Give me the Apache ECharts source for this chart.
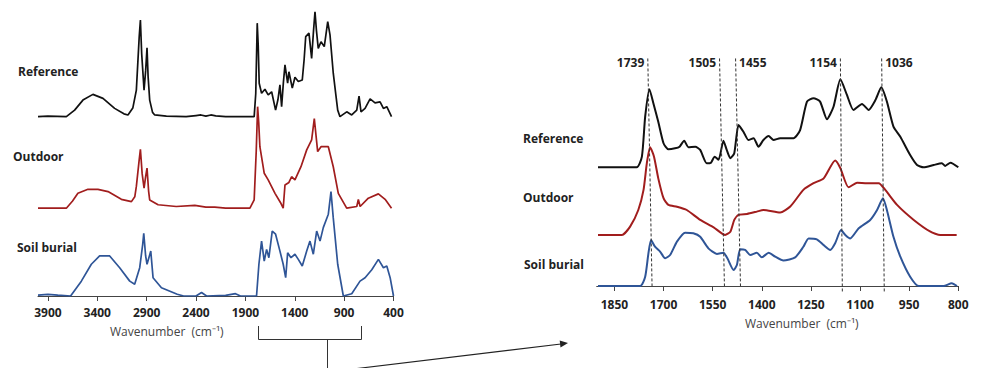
<!DOCTYPE html>
<html>
<head>
<meta charset="utf-8">
<script src="https://cdn.jsdelivr.net/npm/echarts@6/dist/echarts.min.js"></script>
<style>
  html, body { margin: 0; padding: 0; background: #fff; }
  #chart { width: 981px; height: 368px; }
</style>
</head>
<body>
<div id="chart"></div>
<script>
// full spectra (left panel), [wavenumber, absorbance above own baseline]
const refFull = [[4000,0],[3900,0.2],[3713,0],[3629,2.3],[3545,5.8],[3444,7.8],[3342,6.4],[3224,2.9],[3130,1.0],[3089,0.6],[3040,3],[3004,9.3],[2975,28],[2963,33.8],[2950,22],[2926,9.3],[2910,16],[2896,24.1],[2885,14],[2869,5.8],[2840,1.5],[2818,0.6],[2700,0.2],[2500,0],[2400,0.4],[2350,0.6],[2300,0.2],[2250,0.6],[2200,0.3],[2100,0],[1900,0],[1811,0],[1795,8],[1780,32.7],[1770,25],[1760,11.7],[1736,8.2],[1702,9.6],[1669,7.6],[1634,8.7],[1594,2.3],[1570,6],[1550,11.1],[1533,3.5],[1515,12],[1499,18.1],[1472,11.7],[1459,15.7],[1425,10.0],[1398,13.8],[1364,12.3],[1324,12.8],[1305,20],[1289,28.0],[1256,29.2],[1229,20.4],[1210,30],[1195,36.7],[1180,30],[1162,23.9],[1134,26.2],[1101,24.5],[1066,33.2],[1043,28.6],[1010,15.2],[985,8],[965,2.3],[942,0],[874,1.7],[823,0.6],[772,2.3],[749,7.2],[729,1.7],[688,2.9],[637,6.2],[587,4.8],[536,5.2],[502,2.9],[468,3.5],[420,0]];
const outFull = [[4000,0],[3713,0],[3650,2.5],[3596,5.2],[3494,6.6],[3393,6.6],[3291,5.8],[3156,3.1],[3054,2.3],[3020,4],[3004,7.6],[2975,17],[2963,20.6],[2945,12],[2926,7.0],[2910,11],[2896,14.0],[2880,6],[2869,2.9],[2784,1.2],[2600,0.6],[2412,1.0],[2300,0.4],[2210,0.4],[2100,0],[1854,0],[1811,2.9],[1790,20],[1776,35.5],[1765,30],[1753,21.5],[1709,12.2],[1669,9.9],[1600,5.2],[1545,2],[1517,0],[1499,8.1],[1459,9.0],[1432,11.0],[1398,9.9],[1337,14.5],[1279,20.4],[1229,23.9],[1202,31.3],[1168,19.8],[1134,21.5],[1060,21.5],[1010,14.5],[959,5.2],[874,0],[772,0.6],[756,3.1],[738,0.6],[655,3.5],[553,5.0],[485,3.1],[420,0]];
const soilFull = [[4000,0.3],[3900,0.6],[3800,0.3],[3670,0],[3561,5.2],[3460,11.1],[3376,14.0],[3274,14.0],[3173,9.9],[3071,5.2],[3021,4.1],[2970,9.9],[2940,18],[2929,21.9],[2910,14],[2896,11.1],[2858,15.7],[2835,6.4],[2750,2.9],[2590,0.6],[2525,0],[2400,0],[2344,1.2],[2293,0],[2100,0.2],[2000,0.8],[1950,0],[1787,0],[1763,11.1],[1736,19.2],[1709,12.2],[1685,16.3],[1662,13.4],[1628,22.7],[1594,21.6],[1550,15.7],[1517,11.1],[1492,6.4],[1472,15.1],[1438,13.4],[1398,14.6],[1364,12.8],[1324,10.5],[1279,15.7],[1246,19.2],[1212,14.6],[1178,22.7],[1144,19.2],[1111,23.9],[1060,28.6],[1033,36.5],[1010,27.3],[965,11.1],[908,0],[823,0.8],[739,5.2],[688,6.4],[620,9.2],[553,12.8],[502,9.9],[468,10.5],[434,6.4],[400,0]];
const fullOffsets = [62.7, 30.7, 0];

// zoomed 1900-800 region (right panel)
const refZoom = [[1900,0],[1782,0],[1766,4.6],[1756,21.9],[1743,33.8],[1731,27.7],[1716,19.7],[1700,10.4],[1685,7.8],[1665,8.2],[1651,8.9],[1637,11.5],[1624,8.7],[1603,8.9],[1588,7.5],[1568,1.7],[1555,2.0],[1544,4.6],[1532,3.2],[1517,11.5],[1507,7.5],[1496,3.9],[1484,6.1],[1471,18.3],[1456,15.4],[1441,11.8],[1425,12.6],[1410,8.9],[1395,11.8],[1379,13.5],[1364,11.8],[1344,12.6],[1303,12.6],[1283,16.1],[1262,28.4],[1242,29.9],[1222,28.4],[1201,20.8],[1181,26.2],[1160,38.1],[1140,31.3],[1120,24.8],[1094,27.4],[1074,24.8],[1053,29.1],[1035,34.6],[1018,28.4],[998,17.6],[977,13.2],[947,5.3],[926,1.0],[906,0],[875,1.0],[850,1.7],[840,0.6],[824,2.0],[800,0]];
const outZoom = [[1900,0],[1827,0],[1802,3.6],[1777,10.8],[1761,19.5],[1751,31.0],[1741,38.0],[1729,33.9],[1716,24.5],[1700,15.9],[1685,13.0],[1659,12.2],[1629,10.8],[1588,6.5],[1547,3.3],[1512,0],[1496,1.4],[1484,6.5],[1471,8.7],[1445,9.1],[1415,10.1],[1395,10.8],[1344,9.7],[1313,12.3],[1273,19.5],[1242,22.4],[1211,24.5],[1176,32.2],[1160,28.9],[1135,20.6],[1109,22.6],[1079,22.4],[1043,22.4],[1023,19.5],[987,13.0],[936,6.5],[885,1.4],[855,0],[805,0]];
const soilZoom = [[1900,0],[1771,0],[1756,4.0],[1746,14.2],[1738,19.9],[1726,17.0],[1710,14.8],[1695,12.0],[1680,13.4],[1659,19.2],[1634,23.1],[1609,22.8],[1588,21.3],[1563,16.3],[1537,13.9],[1517,14.4],[1505,12.0],[1486,6.9],[1476,9.1],[1466,15.9],[1451,15.6],[1435,13.4],[1415,14.4],[1400,12.4],[1379,14.4],[1359,12.7],[1334,11.0],[1298,12.4],[1273,17.0],[1257,20.6],[1232,20.2],[1211,17.7],[1191,15.6],[1176,18.5],[1158,24.2],[1145,22.1],[1130,20.6],[1104,25.0],[1069,28.6],[1048,32.9],[1030,38.0],[1018,32.9],[998,21.3],[977,12.7],[947,4.0],[921,0],[845,0],[820,1.2],[804,0]];
const zoomOffsets = [51.4, 22.1, 0];

const seriesNames = ['Reference', 'Outdoor', 'Soil burial'];
const leftTicks = [3900, 3400, 2900, 2400, 1900, 1400, 900, 400];
const rightTicks = [1850, 1700, 1550, 1400, 1250, 1100, 950, 800];

// marked bands: label, where the dashed guide sits at top / bottom
const peakLabels = ['1739', '1505', '1455', '1154', '1036'];
const peakTopWn = [1748, 1529, 1480, 1160, 1034];
const peakBottomWn = [1735, 1514, 1465, 1154, 1026];
const peakSide = ['left', 'left', 'right', 'left', 'right'];

const colors = ['#111111', '#a11d1d', '#2f5597'];
const FONT = '"Open Sans", "Liberation Sans", sans-serif';

const chart = echarts.init(document.getElementById('chart'), null, { renderer: 'svg' });

const shift = (pts, off) => pts.map(p => [p[0], p[1] + off]);

const tickFont = { color: '#222', fontWeight: 'bold', fontSize: 12, fontFamily: FONT }

const xBase = {
  type: 'value',
  inverse: true,
  splitLine: { show: false },
  axisLine: { lineStyle: { color: '#444', width: 1 } },
  axisTick: { inside: false, length: 5, lineStyle: { color: '#444' } },
  axisLabel: Object.assign({ margin: 10, formatter: v => String(v) }, tickFont)
}

const series = []
;[refFull, outFull, soilFull].forEach((d, i) => {
  series.push({
    name: seriesNames[i] + ' full',
    type: 'line', xAxisIndex: 0, yAxisIndex: 0,
    data: shift(d, fullOffsets[i]),
    symbol: 'none',
    lineStyle: { color: colors[i], width: 1.7 },
    silent: true
  })
})
;[refZoom, outZoom, soilZoom].forEach((d, i) => {
  series.push({
    name: seriesNames[i] + ' zoom',
    type: 'line', xAxisIndex: 1, yAxisIndex: 1,
    data: shift(d, zoomOffsets[i]),
    symbol: 'none',
    smooth: 0.2,
    lineStyle: { color: colors[i], width: 2 },
    silent: true
  })
})
peakLabels.forEach((lab, i) => {
  const lowEnd = i >= 3 ? -3 : 0
  series.push({
    type: 'line', xAxisIndex: 1, yAxisIndex: 1,
    data: [[peakTopWn[i], 98.5], [peakBottomWn[i], lowEnd]],
    symbol: 'none', clip: false, silent: true,
    lineStyle: { color: '#333', width: 1, type: [3, 2] }
  })
})
series.push({
  type: 'scatter', xAxisIndex: 1, yAxisIndex: 1,
  symbolSize: 1, silent: true,
  itemStyle: { color: 'rgba(0,0,0,0)', opacity: 1 },
  data: peakLabels.map((lab, i) => ({
    value: [peakTopWn[i], 96.8],
    label: Object.assign({ show: true, position: peakSide[i], distance: 3, formatter: lab }, tickFont)
  }))
})

const nameText = (txt, x, y) => ({
  type: 'text', left: x, top: y,
  style: { text: txt, fill: '#222', fontFamily: FONT, fontSize: 12, fontWeight: 'bold' }
})

const option = {
  animation: false,
  grid: [
    { left: 38, right: 587.5, top: 10, bottom: 72 },
    { left: 596.7, right: 22.7, top: 55, bottom: 82 }
  ],
  xAxis: [
    Object.assign({}, xBase, {
      gridIndex: 0, min: 400, max: 4000,
      axisTick: Object.assign({}, xBase.axisTick, { customValues: leftTicks }),
      axisLabel: Object.assign({}, xBase.axisLabel, { customValues: leftTicks })
    }),
    Object.assign({}, xBase, {
      gridIndex: 1, min: 800, max: 1904,
      axisTick: Object.assign({}, xBase.axisTick, { customValues: rightTicks }),
      axisLabel: Object.assign({}, xBase.axisLabel, { customValues: rightTicks, margin: 12 })
    })
  ],
  yAxis: [
    { gridIndex: 0, type: 'value', min: 0, max: 100, show: false },
    { gridIndex: 1, type: 'value', min: 0, max: 100, show: false }
  ],
  series: series,
  graphic: [
    nameText('Reference', 18, 65),
    nameText('Outdoor', 13, 150),
    nameText('Soil burial', 17, 241),
    nameText('Reference', 523, 132),
    nameText('Outdoor', 523, 191),
    nameText('Soil burial', 524, 258),
    { type: 'text', left: 110, top: 325, style: { text: 'Wavenumber  (cm⁻¹)', fill: '#444', fontFamily: FONT, fontSize: 12 } },
    { type: 'text', left: 745, top: 317, style: { text: 'Wavenumber  (cm⁻¹)', fill: '#444', fontFamily: FONT, fontSize: 12 } },
    // bracket under the left axis and arrow to the zoomed panel
    { type: 'polyline', shape: { points: [[258.5, 326], [258.5, 339.5], [361.5, 339.5], [361.5, 326]] }, style: { stroke: '#333', lineWidth: 1, fill: null } },
    { type: 'line', shape: { x1: 327.5, y1: 339.5, x2: 327.5, y2: 368 }, style: { stroke: '#333', lineWidth: 1 } },
    { type: 'line', shape: { x1: 357, y1: 368.5, x2: 561, y2: 344 }, style: { stroke: '#222', lineWidth: 1.2 } },
    { type: 'polygon', shape: { points: [[568, 343], [560.5, 347.4], [559.7, 340.4]] }, style: { fill: '#222' } }
  ]
}

chart.setOption(option)
</script>
</body>
</html>
